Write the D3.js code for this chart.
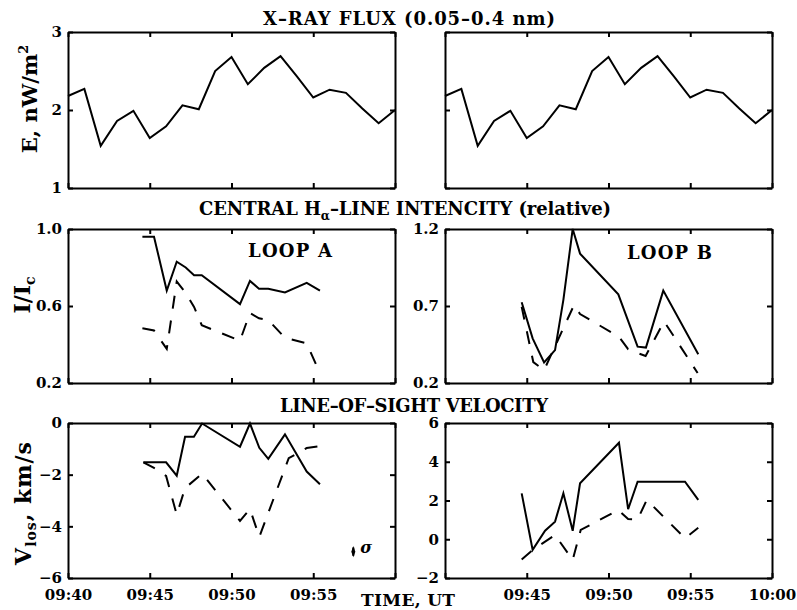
<!DOCTYPE html>
<html>
<head>
<meta charset="utf-8">
<script src="https://cdn.jsdelivr.net/npm/d3@7"></script>
<style>
  body { margin: 0; background: #fff; }
  text { font-family: "DejaVu Serif", serif; font-weight: bold; fill: #000; }
</style>
</head>
<body>
<svg id="chart" width="797" height="610"></svg>
<script>
// time is in minutes after 09:40 UT
const xTicks = [0, 5, 10, 15, 20];
const xLabelsLeft = ["09:40", "09:45", "09:50", "09:55", ""];
const xLabelsRight = ["", "09:45", "09:50", "09:55", "10:00"];

// X-ray flux, same curve in both upper panels
const xrayT = [0, 1, 2, 3, 4, 5, 6, 7, 8, 9, 10, 11, 12, 13, 14, 15, 16, 17, 18, 19, 20];
const xrayE = [2.18, 2.27, 1.54, 1.86, 1.99, 1.64, 1.79, 2.06, 2.01, 2.50, 2.68, 2.33, 2.54, 2.69, 2.43, 2.16, 2.26, 2.22, 2.02, 1.83, 2.0];

// H-alpha intensity, loop A
const intAT = [4.55, 5.26, 6.04, 6.65, 7.2, 7.71, 8.18, 10.52, 11.13, 11.68, 12.25, 13.27, 14.6, 15.41];
const intASolid = [0.96, 0.96, 0.68, 0.83, 0.80, 0.76, 0.76, 0.61, 0.73, 0.69, 0.69, 0.67, 0.72, 0.68];
const intADashed = [0.484, 0.473, 0.377, 0.727, 0.668, 0.595, 0.50, 0.42, 0.564, 0.536, 0.527, 0.435, 0.406, 0.25];

// H-alpha intensity, loop B
const intBSolidT = [4.69, 5.36, 6.06, 6.73, 7.24, 7.81, 8.26, 10.6, 11.78, 12.29, 13.35, 15.49];
const intBSolid = [0.724, 0.49, 0.334, 0.414, 0.74, 1.20, 1.04, 0.776, 0.436, 0.43, 0.80, 0.386];
const intBDashedT = [4.69, 5.4, 6.06, 7.89, 8.26, 10.64, 11.2, 11.76, 12.27, 13.4, 15.45];
const intBDashed = [0.695, 0.336, 0.284, 0.706, 0.648, 0.50, 0.42, 0.395, 0.375, 0.60, 0.265];

// line-of-sight velocity, loop A
const velASolidT = [4.61, 6.0, 6.65, 7.16, 7.7, 8.2, 10.52, 11.13, 11.7, 12.25, 13.27, 14.6, 15.41];
const velASolid = [-1.52, -1.52, -2.04, -0.53, -0.53, -0.02, -0.92, -0.02, -0.96, -1.39, -0.44, -1.88, -2.37];
const velADashedT = [4.61, 5.26, 6.0, 6.65, 7.16, 8.2, 10.52, 11.13, 11.7, 13.5, 14.6, 15.41];
const velADashed = [-1.52, -1.74, -2.05, -3.55, -2.52, -1.96, -3.79, -3.33, -4.41, -1.36, -0.97, -0.9];

// line-of-sight velocity, loop B
const velBSolidT = [4.69, 5.36, 6.12, 6.73, 7.24, 7.81, 8.26, 10.64, 11.2, 11.78, 14.68, 15.49];
const velBSolid = [2.37, -0.55, 0.44, 0.91, 2.37, 0.44, 2.89, 4.98, 1.55, 2.97, 2.97, 2.03];
const velBDashedT = [4.69, 5.36, 6.73, 7.81, 8.3, 10.6, 11.2, 11.78, 12.34, 14.68, 15.49];
const velBDashed = [-1.04, -0.55, 0.22, -1.07, 0.48, 1.51, 1.04, 1.02, 2.03, 0.05, 0.59];

// error bar of the velocity (lower left panel)
const sigmaT = [17.45];
const sigmaV = [-4.98];
const sigmaErr = [0.16];

const svg = d3.select("#chart");

const cols = [[68, 395], [445, 772]];
const rows = [[32, 188], [229, 383], [423, 578]];

function zip(ts, vs) {
    return ts.map((t, i) => [t, vs[i]]);
}

function panel(col, row, yDomain, yTicks, yFormat, showY, showX, xLabels, series) {
    const [x0, x1] = cols[col];
    const [y0, y1] = rows[row];
    const x = d3.scaleLinear().domain([0, 20]).range([x0, x1]);
    const y = d3.scaleLinear().domain(yDomain).range([y1, y0]);

    const g = svg.append("g");

    const bottom = d3.axisBottom(x).tickValues(xTicks).tickSize(-5).tickSizeOuter(0).tickPadding(11)
        .tickFormat((d, i) => showX ? xLabels[i] : "");
    const top = d3.axisTop(x).tickValues(xTicks).tickSize(-5).tickSizeOuter(0).tickFormat("");
    const left = d3.axisLeft(y).tickValues(yTicks).tickSize(-5).tickSizeOuter(0).tickPadding(6)
        .tickFormat(d => showY ? d3.format(yFormat)(d) : "");
    const right = d3.axisRight(y).tickValues(yTicks).tickSize(-5).tickSizeOuter(0).tickFormat("");

    g.append("g").attr("transform", `translate(0,${y1})`).call(bottom);
    g.append("g").attr("transform", `translate(0,${y0})`).call(top);
    g.append("g").attr("transform", `translate(${x0},0)`).call(left);
    g.append("g").attr("transform", `translate(${x1},0)`).call(right);

    g.selectAll(".domain").attr("stroke", "#000").attr("stroke-width", 2);
    g.selectAll(".tick line").attr("stroke", "#000").attr("stroke-width", 2);
    g.selectAll(".tick text")
        .attr("font-family", "DejaVu Serif, serif")
        .attr("font-weight", "bold")
        .attr("font-size", 15)
        .attr("fill", "#000");

    const line = d3.line().x(d => x(d[0])).y(d => y(d[1]));
    series.forEach(s => {
        g.append("path")
            .datum(s.data)
            .attr("d", line)
            .attr("fill", "none")
            .attr("stroke", "#000")
            .attr("stroke-width", 2)
            .attr("stroke-dasharray", s.dashed ? "13,12" : null);
    });

    return { x, y, g };
}

// top row
panel(0, 0, [1, 3], [1, 2, 3], "d", true, false, xLabelsLeft, [{ data: zip(xrayT, xrayE) }]);
panel(1, 0, [1, 3], [1, 2, 3], "d", false, false, xLabelsRight, [{ data: zip(xrayT, xrayE) }]);

// middle row
panel(0, 1, [0.2, 1.0], [0.2, 0.6, 1.0], ".1f", true, false, xLabelsLeft, [
    { data: zip(intAT, intASolid) },
    { data: zip(intAT, intADashed), dashed: true }
]);
panel(1, 1, [0.2, 1.2], [0.2, 0.7, 1.2], ".1f", true, false, xLabelsRight, [
    { data: zip(intBSolidT, intBSolid) },
    { data: zip(intBDashedT, intBDashed), dashed: true }
]);

// bottom row
const pA = panel(0, 2, [-6, 0], [-6, -4, -2, 0], "d", true, true, xLabelsLeft, [
    { data: zip(velASolidT, velASolid) },
    { data: zip(velADashedT, velADashed), dashed: true }
]);
panel(1, 2, [-2, 6], [-2, 0, 2, 4, 6], "d", true, true, xLabelsRight, [
    { data: zip(velBSolidT, velBSolid) },
    { data: zip(velBDashedT, velBDashed), dashed: true }
]);

// sigma marker
sigmaT.forEach((t, i) => {
    const cx = pA.x(t), cy = pA.y(sigmaV[i]);
    pA.g.append("line")
        .attr("x1", cx).attr("x2", cx)
        .attr("y1", pA.y(sigmaV[i] + sigmaErr[i])).attr("y2", pA.y(sigmaV[i] - sigmaErr[i]))
        .attr("stroke", "#000").attr("stroke-width", 2);
    pA.g.append("path")
        .attr("transform", `translate(${cx},${cy}) scale(0.8,1.3)`)
        .attr("d", d3.symbol(d3.symbolDiamond, 22)())
        .attr("fill", "#000");
    pA.g.append("text")
        .attr("x", cx + 7).attr("y", cy + 1)
        .attr("font-size", 16)
        .attr("font-style", "italic")
        .attr("font-weight", "normal")
        .text("σ");
});

// titles
svg.append("text").attr("x", 409).attr("y", 25).attr("text-anchor", "middle")
    .attr("font-size", 18).attr("textLength", 292).attr("lengthAdjust", "spacing")
    .text("X\u2013RAY FLUX (0.05\u20130.4 nm)");

const t2 = svg.append("text").attr("x", 405).attr("y", 215).attr("text-anchor", "middle")
    .attr("font-size", 18).attr("textLength", 412).attr("lengthAdjust", "spacing");
t2.append("tspan").text("CENTRAL H");
t2.append("tspan").attr("dy", 5).attr("font-size", 12).text("α");
t2.append("tspan").attr("dy", -5).text("\u2013LINE INTENCITY (relative)");

svg.append("text").attr("x", 414).attr("y", 412).attr("text-anchor", "middle")
    .attr("font-size", 18).attr("textLength", 268).attr("lengthAdjust", "spacing")
    .text("LINE\u2013OF\u2013SIGHT VELOCITY");

svg.append("text").attr("x", 248).attr("y", 257).attr("font-size", 18)
    .attr("textLength", 84).attr("lengthAdjust", "spacing").text("LOOP A");
svg.append("text").attr("x", 627).attr("y", 259).attr("font-size", 18)
    .attr("textLength", 85).attr("lengthAdjust", "spacing").text("LOOP B");

svg.append("text").attr("x", 361).attr("y", 606).attr("font-size", 17)
    .attr("textLength", 94).attr("lengthAdjust", "spacing").text("TIME, UT");

// y axis titles
const yl1 = svg.append("text").attr("transform", "translate(37,99) rotate(-90)")
    .attr("text-anchor", "middle").attr("font-size", 21);
yl1.append("tspan").text("E, nW/m");
yl1.append("tspan").attr("dy", -9).attr("font-size", 13).text("2");

const yl2 = svg.append("text").attr("transform", "translate(30,295) rotate(-90)")
    .attr("text-anchor", "middle").attr("font-size", 22);
yl2.append("tspan").text("I/I");
yl2.append("tspan").attr("dy", 5).attr("font-size", 14).text("c");

const yl3 = svg.append("text").attr("transform", "translate(31,503) rotate(-90)")
    .attr("text-anchor", "middle").attr("font-size", 22).attr("letter-spacing", 1);
yl3.append("tspan").text("V");
yl3.append("tspan").attr("dy", 5).attr("font-size", 14).text("los");
yl3.append("tspan").attr("dy", -5).text(", km/s");
</script>
</body>
</html>
